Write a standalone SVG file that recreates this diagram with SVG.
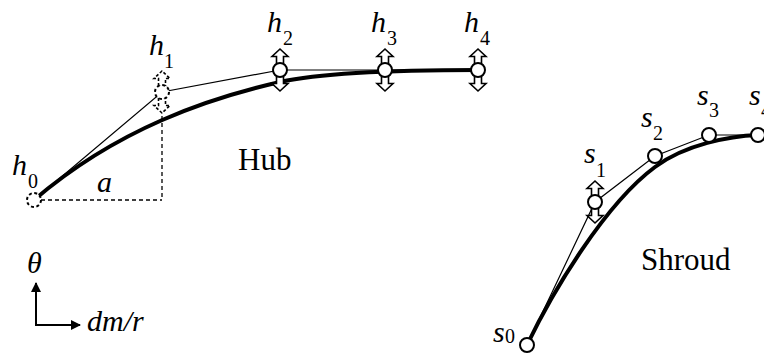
<svg xmlns="http://www.w3.org/2000/svg" xmlns:xlink="http://www.w3.org/1999/xlink" width="764" height="358" viewBox="0 0 764 358">
<style>
.v{font-style:italic;font-size:30px}
.sub{font-size:20px;font-style:normal}
.lbl{font-size:31px}
.thin{fill:none;stroke:#000;stroke-width:1.2}
.thick{fill:none;stroke:#000;stroke-width:4;stroke-linecap:round}
.dash{fill:none;stroke:#000;stroke-width:1.3;stroke-dasharray:4,3}
.node{fill:#fff;stroke:#000;stroke-width:2}
.dnode{fill:#fff;stroke:#000;stroke-width:2;stroke-dasharray:3,2.5}
.arr{fill:#fff;stroke:#000;stroke-width:1.6;stroke-linejoin:miter}
.darr{fill:#fff;stroke:#000;stroke-width:1.6;stroke-dasharray:3,2}
.axis{fill:none;stroke:#000;stroke-width:2}
</style>
<defs>
<g id="dbl">
<polygon points="-3.5,-6 -3.5,-13.5 -8,-13.5 0,-21 8,-13.5 3.5,-13.5 3.5,-6"/>
<polygon points="-3.5,6 -3.5,13.5 -8,13.5 0,21 8,13.5 3.5,13.5 3.5,6"/>
</g>
<marker id="ah" viewBox="0 0 10 10" refX="9" refY="5" markerWidth="10" markerHeight="10" markerUnits="userSpaceOnUse" orient="auto">
<path d="M0,0 L10,5 L0,10 Z" fill="#000"/>
</marker>
</defs>

<g id="connectors">
<polyline class="thin" points="34,200 162,92 280,70 385,70 478,70"/>
<path class="thick" d="M34,200 C118,128 210,98 280,82 C320,73 400,70 478,70"/>
<line class="dash" x1="41" y1="200" x2="162" y2="200"/>
<line class="dash" x1="162" y1="116" x2="162" y2="200"/>
<polyline class="thin" points="527,345 595,202 655,156 709,135 758,135"/>
<path class="thick" d="M527,345 C553,291 605,204 655,167 C685,144.5 730,136 758,135"/>
</g>

<g font-family="Liberation Serif, serif">
<g id="h0">
<circle class="dnode" cx="34" cy="200" r="7"/>
<text class="v" x="12" y="175">h</text><text class="sub" x="28" y="188">0</text>
</g>
<g id="h1">
<use xlink:href="#dbl" class="darr" transform="translate(162,92)"/>
<circle class="dnode" cx="162" cy="92" r="7"/>
<text class="v" x="149" y="55">h</text><text class="sub" x="164" y="68">1</text>
</g>
<g id="h2">
<use xlink:href="#dbl" class="arr" transform="translate(280,70)"/>
<circle class="node" cx="280" cy="70" r="7"/>
<text class="v" x="267" y="32">h</text><text class="sub" x="283" y="45">2</text>
</g>
<g id="h3">
<use xlink:href="#dbl" class="arr" transform="translate(385,70)"/>
<circle class="node" cx="385" cy="70" r="7"/>
<text class="v" x="371" y="32">h</text><text class="sub" x="387" y="45">3</text>
</g>
<g id="h4">
<use xlink:href="#dbl" class="arr" transform="translate(478,70)"/>
<circle class="node" cx="478" cy="70" r="7"/>
<text class="v" x="464" y="32">h</text><text class="sub" x="480" y="45">4</text>
</g>

<g id="s0">
<circle class="node" cx="527" cy="345" r="7"/>
<text class="v" x="493" y="342">s</text><text class="sub" x="505" y="343">0</text>
</g>
<g id="s1">
<use xlink:href="#dbl" class="arr" transform="translate(595,202)"/>
<circle class="node" cx="595" cy="202" r="7"/>
<text class="v" x="584" y="163">s</text><text class="sub" x="596" y="177">1</text>
</g>
<g id="s2">
<circle class="node" cx="655" cy="156" r="7"/>
<text class="v" x="641" y="127">s</text><text class="sub" x="653" y="140">2</text>
</g>
<g id="s3">
<circle class="node" cx="709" cy="135" r="7"/>
<text class="v" x="697" y="105">s</text><text class="sub" x="709" y="117">3</text>
</g>
<g id="s4">
<circle class="node" cx="758" cy="135" r="7"/>
<text class="v" x="749" y="105">s</text><text class="sub" x="761" y="117">4</text>
</g>

<g id="labels">
<text class="v" x="97" y="192">a</text>
<text class="lbl" x="238" y="170">Hub</text>
<text class="lbl" x="641" y="270">Shroud</text>
</g>

<g id="axes">
<path class="axis" d="M36,325 L36,283" marker-end="url(#ah)"/>
<path class="axis" d="M35,325 L80,325" marker-end="url(#ah)"/>
<text class="v" x="27" y="273">θ</text>
<text class="v" x="87" y="331">dm/r</text>
</g>
</g>
</svg>
